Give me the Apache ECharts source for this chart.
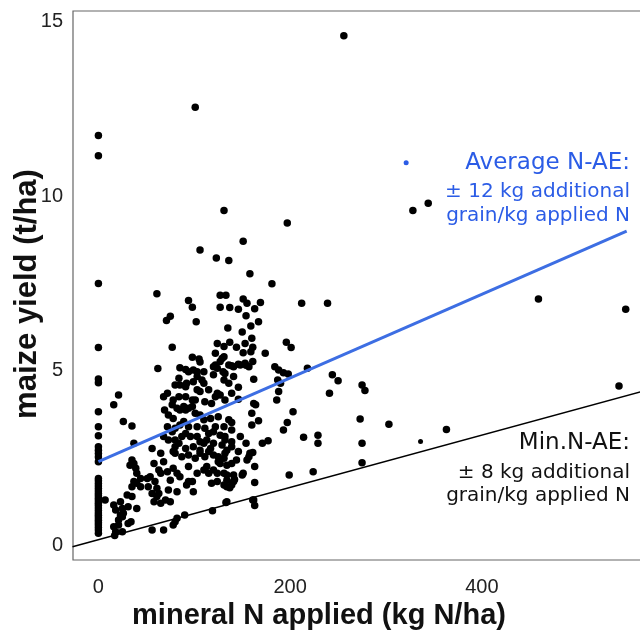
<!DOCTYPE html>
<html>
<head>
<meta charset="utf-8">
<script src="https://cdn.jsdelivr.net/npm/echarts@6/dist/echarts.min.js"></script>
<style>
  html, body { margin: 0; padding: 0; background: #fff; }
  #chart { width: 640px; height: 637px; }
</style>
</head>
<body>
<div id="chart"></div>
<script>
// maize yield (t/ha) of fields that got no mineral N
const zeroNYield = [11.74, 11.16, 7.50, 5.66, 4.76, 4.65, 3.82, 3.39, 3.13, 2.82, 2.72, 2.62, 2.52, 2.39,
  1.91, 1.84, 1.76, 1.69, 1.62, 1.55, 1.48, 1.41, 1.34, 1.27, 1.20, 1.13, 1.06, 0.99, 0.92, 0.85, 0.78, 0.71,
  0.64, 0.57, 0.50, 0.43, 0.34];

// [mineral N applied (kg N/ha), maize yield (t/ha)]
const fertilised = [
  [101, 12.55], [256, 14.60], [131, 9.59], [197, 9.23], [151, 8.71], [106, 8.46], [123, 8.23], [136, 8.16], [158, 7.78], [181, 7.49],
  [61, 7.20], [127, 7.16], [133, 7.16], [94, 7.01], [98, 6.82], [127, 6.82], [137, 6.81], [146, 6.76], [151, 7.05], [155, 6.93],
  [163, 6.77], [169, 6.95], [212, 6.93], [239, 6.93], [75, 6.56], [71, 6.44], [102, 6.40], [154, 6.57], [159, 6.28], [167, 6.40],
  [135, 6.22], [150, 6.11], [160, 5.93], [77, 5.67], [124, 5.78], [131, 5.69], [137, 5.81], [144, 5.67], [153, 5.78], [159, 5.54],
  [151, 5.51], [161, 5.67], [122, 5.50], [131, 5.40], [129, 5.35], [127, 5.26], [98, 5.38], [105, 5.33], [106, 5.25], [174, 5.50],
  [196, 5.81], [201, 5.66], [161, 5.26], [139, 5.14], [146, 5.18], [154, 5.15], [184, 5.11], [218, 5.07], [62, 5.06], [85, 5.08],
  [91, 5.03], [94, 4.97], [99, 5.02], [103, 4.97], [110, 4.97], [120, 5.11], [122, 5.16], [124, 5.07], [130, 4.97], [136, 5.16],
  [141, 5.11], [148, 5.16], [153, 5.21], [157, 5.11], [188, 5.02], [193, 4.94], [198, 4.90], [187, 4.73], [188, 4.40], [190, 4.64],
  [186, 4.16], [244, 4.88], [250, 4.71], [275, 4.59], [278, 4.43], [241, 4.35], [162, 4.75], [146, 4.52], [136, 4.64], [141, 4.83],
  [132, 4.92], [131, 4.73], [146, 4.18], [162, 4.06], [164, 4.02], [160, 3.78], [203, 3.82], [197, 3.51], [193, 3.30], [136, 3.59],
  [139, 3.51], [167, 3.56], [160, 3.44], [273, 3.61], [214, 3.09], [229, 3.15], [229, 2.92], [177, 2.99], [171, 2.92], [154, 2.92],
  [139, 2.82], [134, 2.72], [146, 2.68], [161, 2.65], [157, 2.53], [155, 2.44], [275, 2.92], [139, 2.34], [163, 2.25], [151, 2.06],
  [134, 2.01], [141, 2.01], [142, 1.88], [137, 1.64], [163, 1.79], [199, 2.01], [224, 2.10], [275, 2.36], [134, 1.24], [162, 1.29],
  [163, 1.13], [459, 7.05], [550, 6.76], [543, 4.56], [303, 3.46], [363, 3.31], [328, 9.59], [344, 9.80],
  [21, 4.30], [16, 4.02], [26, 3.54], [35, 3.41], [37, 2.92], [84, 4.78], [85, 4.59], [91, 4.54], [92, 4.64], [99, 4.68],
  [103, 4.83], [108, 4.73], [110, 4.64], [115, 4.45], [122, 4.25], [124, 4.35], [68, 4.25], [72, 4.35], [103, 4.45], [101, 4.16],
  [78, 4.16], [84, 4.25], [77, 4.02], [82, 3.92], [89, 3.97], [94, 3.92], [98, 3.97], [69, 3.87], [73, 3.73], [78, 3.63],
  [72, 3.39], [77, 3.25], [80, 3.35], [85, 3.44], [89, 3.54], [68, 3.11], [73, 3.01], [80, 3.01], [84, 2.92], [80, 2.82],
  [78, 2.68], [91, 3.20], [96, 3.11], [103, 3.11], [106, 2.96], [113, 3.01], [120, 2.92], [115, 3.20], [120, 3.25], [127, 3.15],
  [132, 3.11], [139, 2.96], [148, 3.11], [94, 2.58], [101, 2.49], [106, 2.63], [111, 2.53], [115, 2.68], [120, 2.58], [125, 2.53],
  [131, 2.49], [127, 2.34], [134, 2.29], [144, 2.44], [158, 2.63], [33, 2.29], [37, 2.34], [39, 2.20], [40, 2.06], [44, 1.91],
  [37, 1.82], [35, 1.67], [54, 1.96], [59, 1.82], [65, 2.06], [72, 2.10], [75, 1.86], [52, 1.67], [61, 1.63], [63, 1.48],
  [58, 1.24], [65, 1.20], [75, 1.24], [82, 2.06], [85, 1.96], [94, 1.82], [98, 1.82], [99, 1.53], [103, 2.06], [110, 2.15],
  [115, 2.06], [120, 2.15], [124, 2.06], [131, 2.06], [134, 1.86], [141, 1.82], [150, 2.01], [118, 1.77], [124, 1.82], [134, 1.67],
  [139, 1.72], [73, 1.58], [7, 1.29], [16, 1.15], [23, 1.24], [18, 1.00], [23, 0.86], [21, 0.72], [25, 1.05], [40, 1.05],
  [34, 0.67], [16, 0.52], [18, 0.38], [25, 0.38], [17, 0.27], [56, 0.43], [68, 0.43], [80, 0.67], [82, 0.77], [90, 0.86],
  [119, 0.98], [133, 1.22], [161, 1.29],
  [120, 4.88], [80, 4.59], [106, 4.40], [127, 4.30], [139, 4.35], [91, 4.25], [98, 4.16], [111, 4.11], [118, 4.06], [132, 4.16],
  [85, 3.87], [91, 3.87], [101, 3.78], [106, 3.73], [110, 3.59], [117, 3.63], [125, 3.68], [94, 3.39], [103, 3.39], [111, 3.35],
  [122, 3.39], [131, 3.39], [139, 3.30], [87, 3.11], [110, 2.92], [132, 3.01], [91, 2.77], [99, 2.82], [106, 2.72], [117, 2.77],
  [129, 2.87], [80, 2.63], [87, 2.53], [132, 2.63], [56, 2.77], [65, 2.63], [68, 2.39], [58, 2.34], [63, 2.15], [78, 2.20],
  [94, 2.25], [113, 2.25], [125, 2.39], [35, 2.44], [40, 1.77], [44, 1.67], [51, 1.91], [56, 1.48], [61, 1.39], [82, 1.53],
  [92, 1.72], [131, 1.72], [30, 1.43], [35, 1.39], [31, 1.10], [26, 0.91], [21, 0.57], [31, 0.62], [25, 0.81], [70, 1.29],
  [78, 0.57]
];
const smallDots = [[336, 2.97]];
const blueDot = [[321, 10.96]];

// fitted lines, end points
const avgLine = [[0, 2.39], [551, 9.0]];
const minLine = [[-27, -0.05], [567, 4.40]];

const xTicks = [0, 200, 400];
const yTicks = [0, 5, 10, 15];

const avgText = ['Average N-AE:', '± 12 kg additional', 'grain/kg applied N'];
const minText = ['Min.N-AE:', '± 8 kg additional', 'grain/kg applied N'];

const BLUE = '#2b5ce6';
const LINE_BLUE = '#3d6ee3';

const chart = echarts.init(document.getElementById('chart'));

const points = zeroNYield.map(y => [0, y]).concat(fertilised);

function textBlock(lines, ys, color) {
  return lines.map((t, i) => ({
    type: 'text',
    x: 630,
    y: ys[i],
    style: {
      text: t,
      fill: color,
      font: (i === 0 ? 23 : 20) + 'px "DejaVu Sans"',
      align: 'right',
      verticalAlign: 'middle'
    }
  }));
}

chart.setOption({
  animation: false,
  grid: {
    left: 73, right: -2, top: 11, bottom: 77,
    show: true, borderColor: '#666', borderWidth: 1.2,
    outerBoundsMode: 'none'
  },
  xAxis: {
    type: 'value',
    min: -26.5, max: 567,
    axisLine: { show: false },
    axisTick: { show: false },
    splitLine: { show: false },
    axisLabel: {
      customValues: xTicks,
      fontSize: 20, color: '#222', margin: 17,
      fontFamily: 'Liberation Sans'
    }
  },
  yAxis: {
    type: 'value',
    min: -0.43, max: 15.31,
    axisLine: { show: false },
    axisTick: { show: false },
    splitLine: { show: false },
    axisLabel: {
      customValues: yTicks,
      fontSize: 20, color: '#222', margin: 10,
      fontFamily: 'Liberation Sans'
    }
  },
  graphic: [
    {
      type: 'text', x: 319, y: 616,
      style: {
        text: 'mineral N applied (kg N/ha)',
        fill: '#111',
        font: 'bold 29px "Liberation Sans"',
        align: 'center',
        verticalAlign: 'middle'
      }
    },
    {
      type: 'text', x: 27, y: 294, rotation: Math.PI / 2,
      style: {
        text: 'maize yield (t/ha)',
        fill: '#111',
        font: 'bold 31px "Liberation Sans"',
        align: 'center',
        verticalAlign: 'middle'
      }
    }
  ].concat(textBlock(avgText, [163, 192, 216], BLUE))
   .concat(textBlock(minText, [443, 473, 496], '#111')),
  series: [
    {
      type: 'line', data: minLine, symbol: 'none', silent: true, z: 1,
      lineStyle: { color: '#000', width: 1.5 }
    },
    {
      type: 'scatter', data: points, symbolSize: 7.5, z: 2,
      itemStyle: { color: '#000', opacity: 1 }
    },
    {
      type: 'scatter', data: smallDots, symbolSize: 5, z: 2,
      itemStyle: { color: '#000', opacity: 1 }
    },
    {
      type: 'line', data: avgLine, symbol: 'none', silent: true, z: 3,
      lineStyle: { color: LINE_BLUE, width: 3 }
    },
    {
      type: 'scatter', data: blueDot, symbolSize: 5, z: 3,
      itemStyle: { color: BLUE, opacity: 1 }
    }
  ]
});

window.addEventListener('resize', chart.resize);
</script>
</body>
</html>
